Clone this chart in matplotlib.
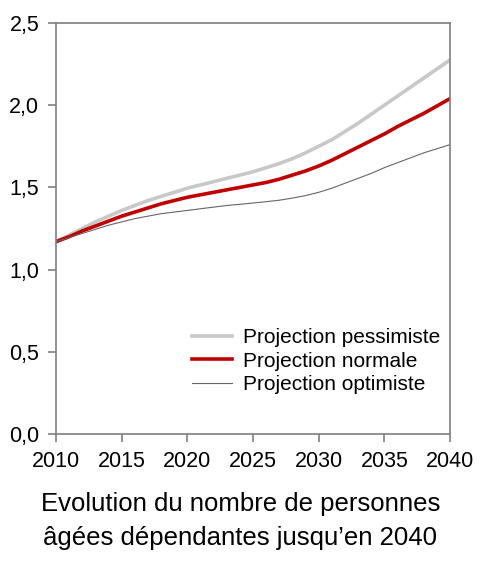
import numpy as np
import matplotlib
matplotlib.use("Agg")
import matplotlib.pyplot as plt

# valeurs (millions)
annees = list(range(2010, 2041))
pessimiste = [1.17, 1.21, 1.25, 1.29, 1.325, 1.36, 1.39, 1.42, 1.445, 1.47,
              1.495, 1.515, 1.535, 1.555, 1.575, 1.595, 1.62, 1.645, 1.675, 1.71,
              1.75, 1.79, 1.84, 1.89, 1.945, 2.0, 2.055, 2.11, 2.165, 2.22, 2.275]
normale = [1.17, 1.20, 1.235, 1.265, 1.295, 1.325, 1.35, 1.375, 1.40, 1.42,
           1.44, 1.455, 1.47, 1.485, 1.50, 1.515, 1.53, 1.55, 1.575, 1.60,
           1.63, 1.665, 1.705, 1.745, 1.785, 1.825, 1.87, 1.91, 1.95, 1.995, 2.04]
optimiste = [1.17, 1.195, 1.22, 1.245, 1.27, 1.29, 1.31, 1.325, 1.34, 1.35,
             1.36, 1.37, 1.38, 1.39, 1.397, 1.405, 1.413, 1.422, 1.435, 1.45,
             1.47, 1.495, 1.525, 1.555, 1.585, 1.62, 1.65, 1.68, 1.71, 1.735, 1.76]

xticks = [2010, 2015, 2020, 2025, 2030, 2035, 2040]
yticks = [0.0, 0.5, 1.0, 1.5, 2.0, 2.5]
ylabels = ["0,0", "0,5", "1,0", "1,5", "2,0", "2,5"]
titre = "Evolution du nombre de personnes\nâgées dépendantes jusqu\u2019en 2040"

plt.rcParams['font.family'] = ['Liberation Sans', 'DejaVu Sans']

fig = plt.figure(figsize=(4.81, 5.65), dpi=100)
ax = fig.add_axes([56/481, 1-434/565, (450-56)/481, (434-23)/565])

ax.plot(annees, pessimiste, color='#c8c8c8', lw=2.6, label='Projection pessimiste')
ax.plot(annees, normale, color='#c00000', lw=2.6, label='Projection normale')
ax.plot(annees, optimiste, color='#666666', lw=0.8, label='Projection optimiste')

ax.set_xlim(2010, 2040)
ax.set_ylim(0, 2.5)
ax.set_xticks(xticks)
ax.set_yticks(yticks)
ax.set_yticklabels(ylabels)

for s in ax.spines.values():
    s.set_color('#7f7f7f')
    s.set_linewidth(1.2)
ax.tick_params(axis='both', colors='#7f7f7f', labelcolor='black', labelsize=15.5, length=6, width=1.2)
ax.tick_params(axis='x', pad=6.5)
ax.tick_params(axis='y', pad=6)

leg = ax.legend(loc='lower right', bbox_to_anchor=(1.0, 0.075), frameon=False, fontsize=15,
                handlelength=1.9, handletextpad=0.55, labelspacing=0.2, borderaxespad=0.05)

fig.text(0.5, 1-521/565, titre, ha='center', va='center', fontsize=18.5, linespacing=1.5)

fig.savefig('out.png', dpi=100)
